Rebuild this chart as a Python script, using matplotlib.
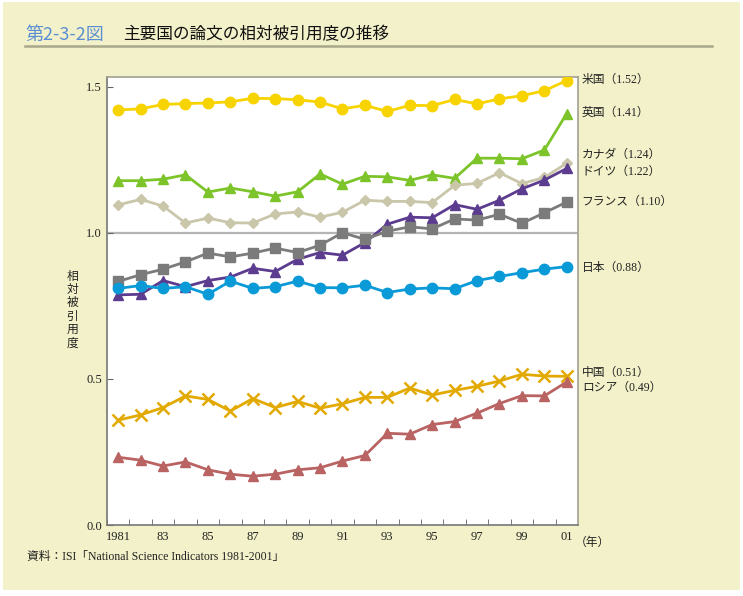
import matplotlib
matplotlib.use('Agg')
import matplotlib.pyplot as plt
from matplotlib.patches import Rectangle
from matplotlib.lines import Line2D

plt.rcParams['font.family'] = ['Liberation Serif', 'Noto Sans CJK JP', 'DejaVu Sans']

years = list(range(1981, 2002))

us = [1.421, 1.425, 1.440, 1.443, 1.445, 1.449, 1.461, 1.460, 1.456, 1.448, 1.425,
      1.437, 1.416, 1.437, 1.436, 1.457, 1.442, 1.459, 1.470, 1.487, 1.522]
uk = [1.179, 1.179, 1.184, 1.199, 1.140, 1.154, 1.141, 1.126, 1.141, 1.202, 1.167,
      1.194, 1.192, 1.180, 1.199, 1.187, 1.256, 1.256, 1.254, 1.284, 1.409]
canada = [1.096, 1.115, 1.092, 1.034, 1.051, 1.035, 1.034, 1.065, 1.072, 1.054, 1.071,
          1.112, 1.108, 1.108, 1.104, 1.163, 1.170, 1.206, 1.169, 1.190, 1.239]
germany = [0.788, 0.790, 0.837, 0.816, 0.837, 0.849, 0.879, 0.868, 0.910, 0.933, 0.924,
           0.967, 1.030, 1.054, 1.052, 1.097, 1.081, 1.112, 1.151, 1.181, 1.221]
france = [0.834, 0.857, 0.876, 0.901, 0.931, 0.918, 0.931, 0.948, 0.933, 0.958, 1.001,
          0.978, 1.006, 1.021, 1.014, 1.048, 1.044, 1.064, 1.033, 1.069, 1.106]
japan = [0.810, 0.820, 0.810, 0.816, 0.790, 0.835, 0.810, 0.816, 0.835, 0.813, 0.812,
         0.821, 0.796, 0.808, 0.812, 0.809, 0.837, 0.851, 0.864, 0.876, 0.885]
china = [0.359, 0.377, 0.402, 0.442, 0.430, 0.390, 0.433, 0.402, 0.423, 0.400, 0.415,
         0.437, 0.437, 0.469, 0.445, 0.461, 0.475, 0.493, 0.516, 0.510, 0.509]
russia = [0.232, 0.222, 0.202, 0.216, 0.189, 0.174, 0.167, 0.174, 0.189, 0.196, 0.219,
          0.238, 0.314, 0.311, 0.344, 0.354, 0.383, 0.416, 0.443, 0.442, 0.490]

names = ['米国', '英国', 'カナダ', 'ドイツ', 'フランス', '日本', '中国', 'ロシア']
final_labels = ['1.52', '1.41', '1.24', '1.22', '1.10', '0.88', '0.51', '0.49']
x_ticks = [1981, 1983, 1985, 1987, 1989, 1991, 1993, 1995, 1997, 1999, 2001]
x_ticklabels = ['1981', '83', '85', '87', '89', '91', '93', '95', '97', '99', '01']
y_ticks = [0.0, 0.5, 1.0, 1.5]

series = [us, uk, canada, germany, france, japan, china, russia]
colors = ['#F7D300', '#7CC42A', '#C9C6AA', '#5C3C8F', '#7B7B7B', '#0A9AD7', '#E2A900', '#B96362']
markers = ['o', '^', 'D', '^', 's', 'o', 'x', '^']
msizes = [7.5, 7.5, 5.5, 7.5, 6.5, 7.5, 8.5, 7.5]
# label heights (data units) so the texts don't collide
label_y = [1.523, 1.410, 1.267, 1.208, 1.106, 0.880, 0.521, 0.470]

fig = plt.figure(figsize=(7.43, 5.96), dpi=100)
fig.patch.set_facecolor('white')
fig.patches.append(Rectangle((0.004, 0.01), 0.992, 0.987, transform=fig.transFigure,
                             facecolor='#F3F1C9', edgecolor='none', zorder=-10))

# title and rule
fig.text(25 / 743, 1 - 35 / 596, '第2-3-2図', color='#5B8FD3', fontsize=13,
         family=['Noto Sans CJK JP'], va='center', ha='left')
fig.text(123 / 743, 1 - 35 / 596, '主要国の論文の相対被引用度の推移', color='#111111', fontsize=12,
         family=['Noto Sans CJK JP'], va='center', ha='left')
fig.lines.append(Line2D([25 / 743, 712 / 743], [1 - 45.5 / 596, 1 - 45.5 / 596],
                        transform=fig.transFigure, color='#A8A88C', linewidth=1.8))

ax = fig.add_axes([107 / 743, 1 - 525 / 596, 471 / 743, 448 / 596])
ax.set_facecolor('white')

ax.axhline(1.0, color='#B5B5B5', linewidth=1.6, zorder=1)

for values, color, marker, ms in zip(series, colors, markers, msizes):
    if marker == 'x':
        ax.plot(years, values, color=color, linewidth=2, marker=marker, markersize=ms,
                markeredgewidth=1.8, zorder=3)
    else:
        ax.plot(years, values, color=color, linewidth=2, marker=marker, markersize=ms,
                markeredgecolor=color, zorder=3)

for name, val, y in zip(names, final_labels, label_y):
    ax.annotate(name + '（' + val + '）', xy=(1.008, y), xycoords=('axes fraction', 'data'),
                fontsize=8.5, va='center', ha='left', color='#222222')

ax.set_xlim(1980.5, 2001.5)
ax.set_ylim(0, 1.534)
ax.set_xticks(x_ticks)
ax.set_xticklabels(x_ticklabels)
ax.set_xticks([y + 0.5 for y in range(1980, 2001)], minor=True)
ax.set_yticks(y_ticks)
ax.set_yticklabels(['%.1f' % t for t in y_ticks])
ax.tick_params(axis='x', which='major', length=0, labelsize=9, pad=4, colors='#222222')
ax.tick_params(axis='x', which='minor', direction='in', length=4, color='#666666')
ax.tick_params(axis='y', direction='in', length=4, labelsize=9, color='#666666',
               labelcolor='#222222')

for side in ['left', 'bottom']:
    ax.spines[side].set_color('#777777')
    ax.spines[side].set_linewidth(1.2)
for side in ['top', 'right']:
    ax.spines[side].set_color('#A0A090')
    ax.spines[side].set_linewidth(1.2)

ax.text(0.993, -0.026, '（年）', transform=ax.transAxes, fontsize=8.5, va='top', ha='left',
        color='#222222')
ax.text(-0.074, 0.48, '\n'.join('相対被引用度'), transform=ax.transAxes, fontsize=8.5,
        va='center', ha='center', linespacing=1.15, color='#222222')

fig.text(27 / 743, 1 - 557 / 596, '資料：ISI「National Science Indicators 1981-2001」',
         fontsize=8.5, va='center', ha='left', color='#222222')

fig.savefig('out.png', dpi=100, facecolor=fig.get_facecolor())
